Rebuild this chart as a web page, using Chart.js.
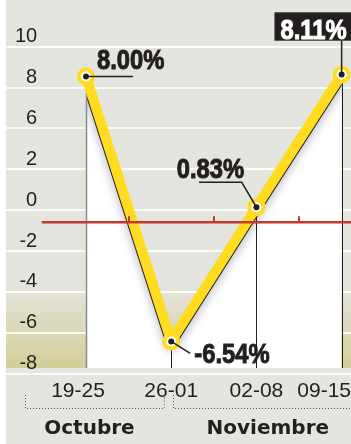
<!DOCTYPE html>
<html>
<head>
<meta charset="utf-8">
<script src="https://cdn.jsdelivr.net/npm/chart.js@4.4.1/dist/chart.umd.min.js"></script>
<style>
  html, body { margin: 0; padding: 0; background: #fff; }
  #wrap { width: 351px; height: 444px; position: relative; }
</style>
</head>
<body>
<div id="wrap"><canvas id="chart"></canvas></div>
<script>
const weeks = ['19-25', '26-01', '02-08', '09-15'];
const variation = [8.00, -6.54, 0.83, 8.11];
const yTickLabels = ['10', '8', '6', '2', '0', '-2', '-4', '-6', '-8'];
const months = ['Octubre', 'Noviembre'];
const monthWeeks = [[0, 1], [1, 3]];

const YELLOW = '#ffdc1f';
const INK = '#231f20';
const RED = '#c5382c';

const points = variation.map((v, i) => ({ x: i, y: v }));

// where each value label sits relative to its point
const callouts = [
    { text: [11, -7.2], leader: [[0, 0], [47, 0]] },
    { text: [23, 22], leader: [[0, 0], [19, 12]] },
    { text: [-79.7, -28.8], leader: [[-57.4, -24.8], [-14.7, -24.8], [0, 0]] },
    { text: [5, -35.2], align: 'right', box: [-62.2, -33.8], leader: [[0, -33.8], [0, 0]] }
];
const monthNudge = [-5, 6];

function condensedText(ctx, text, x, y, align, color) {
    ctx.save();
    ctx.translate(x, y);
    ctx.scale(0.85, 1);
    ctx.textAlign = align;
    ctx.textBaseline = 'alphabetic';
    ctx.fillStyle = color;
    ctx.strokeStyle = color;
    ctx.lineWidth = 1;
    ctx.fillText(text, 0, 0);
    ctx.strokeText(text, 0, 0);
    ctx.restore();
}

const decor = {
    id: 'decor',
    beforeDraw(chart) {
        const { ctx, width, height, chartArea: a } = chart;
        ctx.save();
        ctx.fillStyle = '#fff';
        ctx.fillRect(0, 0, width, height);
        ctx.fillStyle = '#e5e5df';
        ctx.fillRect(6, 0, width - 6, height);
        const g = ctx.createLinearGradient(0, a.bottom - 85, 0, a.bottom);
        g.addColorStop(0, 'rgba(211,207,152,0)');
        g.addColorStop(1, 'rgba(211,207,152,1)');
        ctx.fillStyle = g;
        ctx.fillRect(a.left, a.bottom - 85, a.right - a.left, 85);
        ctx.restore();
    },
    beforeDatasetDraw(chart, args) {
        if (args.index !== 0) return;
        const { ctx, chartArea: a } = chart;
        const pts = args.meta.data;
        ctx.save();
        ctx.beginPath();
        ctx.moveTo(pts[0].x, a.bottom + 10);
        pts.forEach(p => ctx.lineTo(p.x, p.y));
        ctx.lineTo(pts[pts.length - 1].x, a.bottom + 10);
        ctx.closePath();
        ctx.clip();
        ctx.shadowColor = 'rgba(80,80,110,0.4)';
        ctx.shadowBlur = 10;
        ctx.shadowOffsetY = 3;
    },
    afterDatasetDraw(chart, args) {
        if (args.index !== 0) return;
        const { ctx, chartArea: a } = chart;
        ctx.restore();
        ctx.save();
        args.meta.data.forEach((p, i) => {
            const x = Math.round(p.x) + 0.5;
            ctx.beginPath();
            ctx.strokeStyle = i === 0 ? '#8a8a8a' : INK;
            ctx.lineWidth = i === 0 ? 1.5 : 1;
            ctx.moveTo(x, p.y);
            ctx.lineTo(x, a.bottom);
            ctx.stroke();
        });
        ctx.restore();
    },
    afterDatasetsDraw(chart) {
        const { ctx, width, chartArea: a } = chart;
        const xs = chart.scales.x;
        const y0 = chart.scales.y.getPixelForValue(0);
        const step = xs.getPixelForValue(1) - xs.getPixelForValue(0);
        ctx.save();

        // zero line with week separators
        ctx.strokeStyle = RED;
        ctx.lineWidth = 2.5;
        ctx.beginPath();
        ctx.moveTo(xs.getPixelForValue(-0.52), y0);
        ctx.lineTo(width, y0);
        ctx.stroke();
        ctx.lineWidth = 2;
        for (let i = 0; i < weeks.length - 1; i++) {
            const mx = Math.round(xs.getPixelForValue(i + 0.5));
            ctx.beginPath();
            ctx.moveTo(mx, y0);
            ctx.lineTo(mx, y0 - 6);
            ctx.stroke();
        }

        // week labels
        ctx.font = '21px "Liberation Sans", Arial, sans-serif';
        ctx.fillStyle = INK;
        ctx.textAlign = 'center';
        ctx.textBaseline = 'alphabetic';
        weeks.forEach((w, i) => {
            const tw = ctx.measureText(w).width;
            let x = Math.min(xs.getPixelForValue(i), width - tw / 2);
            if (i === 0) x -= 8;
            ctx.fillText(w, x, a.bottom + 29);
        });

        // month brackets
        ctx.strokeStyle = '#555';
        ctx.lineWidth = 1;
        ctx.setLineDash([1, 2]);
        ctx.font = 'bold 20px "DejaVu Sans", sans-serif';
        months.forEach((m, k) => {
            const [s, e] = monthWeeks[k];
            const left = k === 0 ? xs.getPixelForValue(s) - 0.72 * step : xs.getPixelForValue(s) + 1.5;
            const right = k === months.length - 1 ? width : xs.getPixelForValue(e) - 7;
            const top = a.bottom + 27, bot = a.bottom + 40;
            ctx.beginPath();
            ctx.moveTo(Math.round(left) + 0.5, top);
            ctx.lineTo(Math.round(left) + 0.5, bot + 0.5);
            ctx.lineTo(right, bot + 0.5);
            if (k < months.length - 1) ctx.lineTo(Math.round(right) + 0.5, top);
            ctx.stroke();
            ctx.fillText(m, (left + right) / 2 + monthNudge[k], a.bottom + 66);
        });
        ctx.setLineDash([]);

        // value callouts
        const pts = chart.getDatasetMeta(1).data;
        ctx.font = 'bold 28px "Liberation Sans", Arial, sans-serif';
        pts.forEach((p, i) => {
            const c = callouts[i];
            const label = variation[i].toFixed(2) + '%';
            const tx = p.x + c.text[0], ty = p.y + c.text[1];
            const tw = ctx.measureText(label).width * 0.85;
            ctx.strokeStyle = INK;
            ctx.lineWidth = 1.5;
            ctx.beginPath();
            c.leader.forEach(([dx, dy], j) => {
                if (j === 0) ctx.moveTo(p.x + dx, p.y + dy);
                else ctx.lineTo(p.x + dx, p.y + dy);
            });
            ctx.stroke();
            if (c.box) {
                ctx.fillStyle = INK;
                ctx.fillRect(tx - tw - 6, p.y + c.box[0], width - (tx - tw - 6), c.box[1] - c.box[0]);
                condensedText(ctx, label, tx, ty, 'right', '#fff');
            } else {
                condensedText(ctx, label, tx, ty, c.align || 'left', INK);
            }
        });
        ctx.restore();
    }
};

new Chart(document.getElementById('chart'), {
    type: 'line',
    data: {
        datasets: [
            {
                data: points,
                borderColor: INK,
                borderWidth: 12,
                borderJoinStyle: 'round',
                backgroundColor: '#fff',
                fill: 'start',
                pointRadius: 0,
                order: 3
            },
            {
                data: points,
                borderColor: YELLOW,
                borderWidth: 10,
                borderJoinStyle: 'round',
                fill: false,
                pointRadius: 7,
                pointBorderWidth: 4,
                pointBorderColor: YELLOW,
                pointBackgroundColor: '#fff',
                order: 2
            },
            {
                data: points,
                showLine: false,
                pointRadius: 3,
                pointBorderWidth: 0,
                pointBackgroundColor: INK,
                order: 1
            }
        ]
    },
    options: {
        responsive: true,
        maintainAspectRatio: false,
        animation: false,
        layout: { autoPadding: false, padding: { left: 6, right: 0, top: 0, bottom: 76 } },
        plugins: { legend: { display: false }, tooltip: { enabled: false } },
        scales: {
            x: { type: 'linear', min: -0.939, max: 3.11, display: false },
            y: { type: 'linear', min: -8, max: 12.2, display: false },
            yGrid: {
                type: 'linear',
                position: 'left',
                reverse: true,
                min: -1.143,
                max: 7.863,
                afterBuildTicks: scale => {
                    scale.ticks = yTickLabels.map((_, i) => ({ value: i }));
                },
                afterFit: scale => {
                    scale.width = 0;
                    scale.paddingTop = 0;
                    scale.paddingBottom = 0;
                    scale.paddingLeft = 0;
                    scale.paddingRight = 0;
                },
                grid: { color: '#fbfbf8', lineWidth: 2, drawTicks: false },
                border: { display: false },
                ticks: {
                    mirror: true,
                    crossAlign: 'far',
                    padding: 9,
                    labelOffset: -10,
                    autoSkip: false,
                    color: INK,
                    font: { family: '"Liberation Sans", Arial, sans-serif', size: 20 },
                    callback: value => yTickLabels[value]
                }
            }
        }
    },
    plugins: [decor]
});
</script>
</body>
</html>
